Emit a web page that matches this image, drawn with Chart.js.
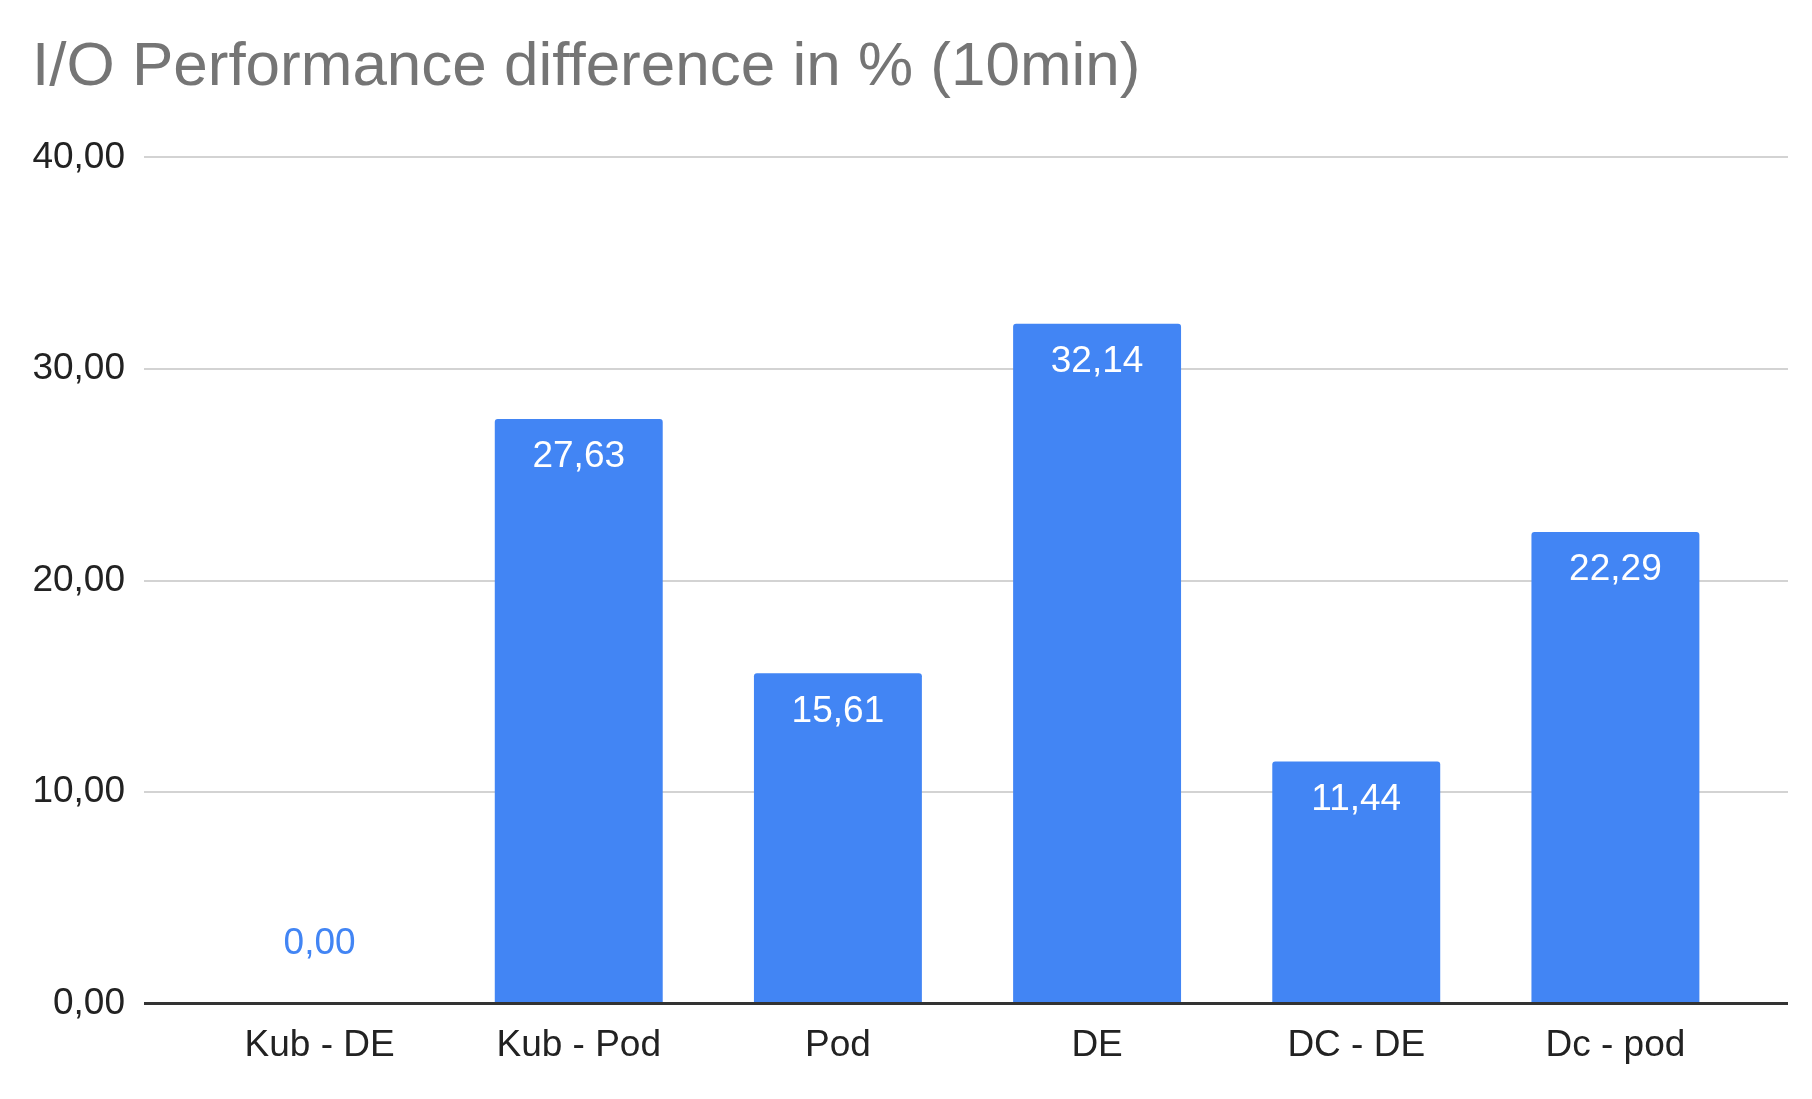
<!DOCTYPE html>
<html>
<head>
<meta charset="utf-8">
<style>
html,body{margin:0;padding:0;background:#fff;}
#wrap{width:1812px;height:1099px;position:relative;}
</style>
<script src="https://cdn.jsdelivr.net/npm/chart.js@4/dist/chart.umd.min.js"></script>
</head>
<body>
<div id="wrap"><canvas id="c" width="1812" height="1099"></canvas></div>
<script>
const titleText = 'I/O Performance difference in % (10min)';
const categories = ['Kub - DE', 'Kub - Pod', 'Pod', 'DE', 'DC - DE', 'Dc - pod'];
const values = [0.00, 27.63, 15.61, 32.14, 11.44, 22.29];
const yTicks = [0, 10, 20, 30, 40];

const BLUE = '#4285F4';
const FONT = "'Liberation Sans', Arial, sans-serif";
const fmt = v => v.toFixed(2).replace('.', ',');

const labelPlugin = {
  id: 'barLabels',
  afterDatasetsDraw(chart) {
    const ctx = chart.ctx;
    const meta = chart.getDatasetMeta(0);
    ctx.save();
    ctx.font = '37px ' + FONT;
    ctx.textAlign = 'center';
    ctx.textBaseline = 'middle';
    meta.data.forEach((bar, i) => {
      const v = values[i];
      if (v > 0) {
        ctx.fillStyle = '#ffffff';
        ctx.fillText(fmt(v), bar.x, bar.y + 38);
      } else {
        ctx.fillStyle = BLUE;
        ctx.fillText(fmt(v), bar.x, bar.y - 60);
      }
    });
    ctx.restore();
  }
};

const gridColor = c => (c.tick && c.tick.value === 0) ? '#333333' : '#d3d3d3';
const gridWidth = c => (c.tick && c.tick.value === 0) ? 3 : 2;

new Chart(document.getElementById('c'), {
  type: 'bar',
  data: {
    labels: categories,
    datasets: [{
      data: values,
      backgroundColor: BLUE,
      borderWidth: 0,
      borderRadius: {topLeft: 3, topRight: 3, bottomLeft: 0, bottomRight: 0},
      borderSkipped: 'bottom',
      categoryPercentage: 1,
      barPercentage: 0.648
    }]
  },
  options: {
    responsive: false,
    animation: false,
    devicePixelRatio: 1,
    layout: {padding: {left: 32, right: 24, top: 0, bottom: 19}},
    plugins: {
      legend: {display: false},
      tooltip: {enabled: false},
      title: {
        display: true,
        text: titleText,
        align: 'start',
        color: '#757575',
        font: {family: FONT, size: 62, weight: 'normal'},
        padding: {top: 31, bottom: 52}
      }
    },
    scales: {
      x: {
        grid: {display: false},
        border: {display: false},
        ticks: {color: '#222', font: {family: FONT, size: 37}, padding: 12, maxRotation: 0}
      },
      y: {
        min: 0, max: 40,
        afterBuildTicks: s => { s.ticks = yTicks.map(v => ({value: v})); },
        afterFit: s => { s.width = 158; },
        border: {display: false},
        grid: {color: gridColor, tickColor: gridColor, lineWidth: gridWidth, drawTicks: true, tickLength: 46},
        ticks: {color: '#222', font: {family: FONT, size: 37}, padding: 19, callback: v => fmt(v)}
      },
      y2: {
        position: 'right',
        min: 0, max: 40,
        afterBuildTicks: s => { s.ticks = yTicks.map(v => ({value: v})); },
        afterFit: s => { s.width = 43; },
        border: {display: false},
        grid: {drawOnChartArea: false, color: gridColor, tickColor: gridColor, lineWidth: gridWidth, drawTicks: true, tickLength: 43},
        ticks: {display: false}
      }
    }
  },
  plugins: [labelPlugin]
});
</script>
</body>
</html>
